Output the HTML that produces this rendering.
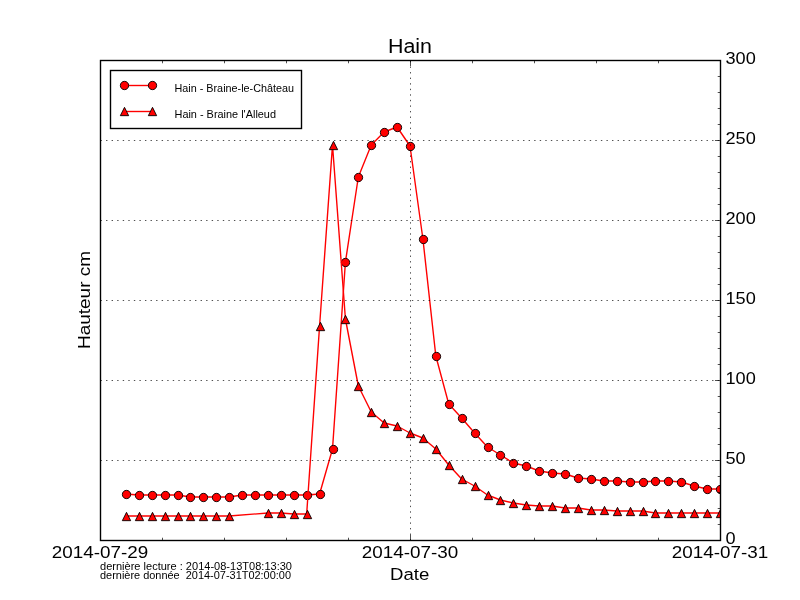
<!DOCTYPE html><html><head><meta charset="utf-8"><title>Hain</title><style>html,body{margin:0;padding:0;background:#fff;width:800px;height:600px;overflow:hidden}svg{display:block;will-change:transform}text{font-family:"Liberation Sans",sans-serif}</style></head><body><svg width="800" height="600" viewBox="0 0 800 600"><defs><clipPath id="ax"><rect x="100" y="60" width="620" height="480"/></clipPath></defs><rect x="0" y="0" width="800" height="600" fill="#fff"/><g clip-path="url(#ax)"><polyline points="125.83,494.00 138.75,495.00 151.67,495.00 164.58,495.00 177.50,495.00 190.42,497.00 203.33,497.00 216.25,497.00 229.17,497.00 242.08,495.00 255.00,495.00 267.92,495.00 280.83,495.00 293.75,495.00 306.67,495.00 319.58,494.00 332.50,449.00 345.42,262.00 358.33,177.00 371.25,145.00 384.17,132.00 397.08,127.00 410.00,146.00 422.92,239.00 435.83,356.00 448.75,404.00 461.67,418.00 474.58,433.00 487.50,447.00 500.42,455.00 513.33,463.00 526.25,466.00 539.17,471.00 552.08,473.00 565.00,474.00 577.92,478.00 590.83,479.00 603.75,481.00 616.67,481.00 629.58,482.00 642.50,482.00 655.42,481.00 668.33,481.00 681.25,482.00 694.17,486.00 707.08,489.00 720.00,489.00" fill="none" stroke="#f00" stroke-width="1.39" stroke-linejoin="round" stroke-linecap="square"/><g fill="#f00" stroke="#000" stroke-width="0.9"><circle cx="126.50" cy="494.50" r="4.17"/><circle cx="139.50" cy="495.50" r="4.17"/><circle cx="152.50" cy="495.50" r="4.17"/><circle cx="165.50" cy="495.50" r="4.17"/><circle cx="178.50" cy="495.50" r="4.17"/><circle cx="190.50" cy="497.50" r="4.17"/><circle cx="203.50" cy="497.50" r="4.17"/><circle cx="216.50" cy="497.50" r="4.17"/><circle cx="229.50" cy="497.50" r="4.17"/><circle cx="242.50" cy="495.50" r="4.17"/><circle cx="255.50" cy="495.50" r="4.17"/><circle cx="268.50" cy="495.50" r="4.17"/><circle cx="281.50" cy="495.50" r="4.17"/><circle cx="294.50" cy="495.50" r="4.17"/><circle cx="307.50" cy="495.50" r="4.17"/><circle cx="320.50" cy="494.50" r="4.17"/><circle cx="333.50" cy="449.50" r="4.17"/><circle cx="345.50" cy="262.50" r="4.17"/><circle cx="358.50" cy="177.50" r="4.17"/><circle cx="371.50" cy="145.50" r="4.17"/><circle cx="384.50" cy="132.50" r="4.17"/><circle cx="397.50" cy="127.50" r="4.17"/><circle cx="410.50" cy="146.50" r="4.17"/><circle cx="423.50" cy="239.50" r="4.17"/><circle cx="436.50" cy="356.50" r="4.17"/><circle cx="449.50" cy="404.50" r="4.17"/><circle cx="462.50" cy="418.50" r="4.17"/><circle cx="475.50" cy="433.50" r="4.17"/><circle cx="488.50" cy="447.50" r="4.17"/><circle cx="500.50" cy="455.50" r="4.17"/><circle cx="513.50" cy="463.50" r="4.17"/><circle cx="526.50" cy="466.50" r="4.17"/><circle cx="539.50" cy="471.50" r="4.17"/><circle cx="552.50" cy="473.50" r="4.17"/><circle cx="565.50" cy="474.50" r="4.17"/><circle cx="578.50" cy="478.50" r="4.17"/><circle cx="591.50" cy="479.50" r="4.17"/><circle cx="604.50" cy="481.50" r="4.17"/><circle cx="617.50" cy="481.50" r="4.17"/><circle cx="630.50" cy="482.50" r="4.17"/><circle cx="643.50" cy="482.50" r="4.17"/><circle cx="655.50" cy="481.50" r="4.17"/><circle cx="668.50" cy="481.50" r="4.17"/><circle cx="681.50" cy="482.50" r="4.17"/><circle cx="694.50" cy="486.50" r="4.17"/><circle cx="707.50" cy="489.50" r="4.17"/><circle cx="720.50" cy="489.50" r="4.17"/></g><polyline points="125.83,516.00 138.75,516.00 151.67,516.00 164.58,516.00 177.50,516.00 190.42,516.00 203.33,516.00 216.25,516.00 229.17,516.00 267.92,513.00 280.83,513.00 293.75,514.00 306.67,514.00 319.58,326.00 332.50,145.00 345.42,319.00 358.33,386.00 371.25,412.00 384.17,423.00 397.08,426.00 410.00,433.00 422.92,438.00 435.83,449.00 448.75,465.00 461.67,479.00 474.58,486.00 487.50,495.00 500.42,500.00 513.33,503.00 526.25,505.00 539.17,506.00 552.08,506.00 565.00,508.00 577.92,508.00 590.83,510.00 603.75,510.00 616.67,511.00 629.58,511.00 642.50,511.00 655.42,513.00 668.33,513.00 681.25,513.00 694.17,513.00 707.08,513.00 720.00,513.00" fill="none" stroke="#f00" stroke-width="1.39" stroke-linejoin="round" stroke-linecap="square"/><g fill="#f00" stroke="#000" stroke-width="0.9" stroke-linejoin="miter"><path d="M126.50 512.33L122.33 520.67L130.67 520.67Z"/><path d="M139.50 512.33L135.33 520.67L143.67 520.67Z"/><path d="M152.50 512.33L148.33 520.67L156.67 520.67Z"/><path d="M165.50 512.33L161.33 520.67L169.67 520.67Z"/><path d="M178.50 512.33L174.33 520.67L182.67 520.67Z"/><path d="M190.50 512.33L186.33 520.67L194.67 520.67Z"/><path d="M203.50 512.33L199.33 520.67L207.67 520.67Z"/><path d="M216.50 512.33L212.33 520.67L220.67 520.67Z"/><path d="M229.50 512.33L225.33 520.67L233.67 520.67Z"/><path d="M268.50 509.33L264.33 517.67L272.67 517.67Z"/><path d="M281.50 509.33L277.33 517.67L285.67 517.67Z"/><path d="M294.50 510.33L290.33 518.67L298.67 518.67Z"/><path d="M307.50 510.33L303.33 518.67L311.67 518.67Z"/><path d="M320.50 322.33L316.33 330.67L324.67 330.67Z"/><path d="M333.50 141.33L329.33 149.67L337.67 149.67Z"/><path d="M345.50 315.33L341.33 323.67L349.67 323.67Z"/><path d="M358.50 382.33L354.33 390.67L362.67 390.67Z"/><path d="M371.50 408.33L367.33 416.67L375.67 416.67Z"/><path d="M384.50 419.33L380.33 427.67L388.67 427.67Z"/><path d="M397.50 422.33L393.33 430.67L401.67 430.67Z"/><path d="M410.50 429.33L406.33 437.67L414.67 437.67Z"/><path d="M423.50 434.33L419.33 442.67L427.67 442.67Z"/><path d="M436.50 445.33L432.33 453.67L440.67 453.67Z"/><path d="M449.50 461.33L445.33 469.67L453.67 469.67Z"/><path d="M462.50 475.33L458.33 483.67L466.67 483.67Z"/><path d="M475.50 482.33L471.33 490.67L479.67 490.67Z"/><path d="M488.50 491.33L484.33 499.67L492.67 499.67Z"/><path d="M500.50 496.33L496.33 504.67L504.67 504.67Z"/><path d="M513.50 499.33L509.33 507.67L517.67 507.67Z"/><path d="M526.50 501.33L522.33 509.67L530.67 509.67Z"/><path d="M539.50 502.33L535.33 510.67L543.67 510.67Z"/><path d="M552.50 502.33L548.33 510.67L556.67 510.67Z"/><path d="M565.50 504.33L561.33 512.67L569.67 512.67Z"/><path d="M578.50 504.33L574.33 512.67L582.67 512.67Z"/><path d="M591.50 506.33L587.33 514.67L595.67 514.67Z"/><path d="M604.50 506.33L600.33 514.67L608.67 514.67Z"/><path d="M617.50 507.33L613.33 515.67L621.67 515.67Z"/><path d="M630.50 507.33L626.33 515.67L634.67 515.67Z"/><path d="M643.50 507.33L639.33 515.67L647.67 515.67Z"/><path d="M655.50 509.33L651.33 517.67L659.67 517.67Z"/><path d="M668.50 509.33L664.33 517.67L672.67 517.67Z"/><path d="M681.50 509.33L677.33 517.67L685.67 517.67Z"/><path d="M694.50 509.33L690.33 517.67L698.67 517.67Z"/><path d="M707.50 509.33L703.33 517.67L711.67 517.67Z"/><path d="M720.50 509.33L716.33 517.67L724.67 517.67Z"/></g></g><g stroke="#000" stroke-width="0.69" stroke-dasharray="1.39 4.17" fill="none"><line x1="100.5" y1="460.50" x2="720.5" y2="460.50"/><line x1="100.5" y1="380.50" x2="720.5" y2="380.50"/><line x1="100.5" y1="300.50" x2="720.5" y2="300.50"/><line x1="100.5" y1="220.50" x2="720.5" y2="220.50"/><line x1="100.5" y1="140.50" x2="720.5" y2="140.50"/><line x1="410.5" y1="540.5" x2="410.5" y2="60.5"/></g><g stroke="#000" stroke-width="0.69"><line x1="162.50" y1="540.5" x2="162.50" y2="537.72"/><line x1="162.50" y1="60.5" x2="162.50" y2="63.28"/><line x1="472.50" y1="540.5" x2="472.50" y2="537.72"/><line x1="472.50" y1="60.5" x2="472.50" y2="63.28"/><line x1="224.50" y1="540.5" x2="224.50" y2="537.72"/><line x1="224.50" y1="60.5" x2="224.50" y2="63.28"/><line x1="534.50" y1="540.5" x2="534.50" y2="537.72"/><line x1="534.50" y1="60.5" x2="534.50" y2="63.28"/><line x1="286.50" y1="540.5" x2="286.50" y2="537.72"/><line x1="286.50" y1="60.5" x2="286.50" y2="63.28"/><line x1="596.50" y1="540.5" x2="596.50" y2="537.72"/><line x1="596.50" y1="60.5" x2="596.50" y2="63.28"/><line x1="348.50" y1="540.5" x2="348.50" y2="537.72"/><line x1="348.50" y1="60.5" x2="348.50" y2="63.28"/><line x1="658.50" y1="540.5" x2="658.50" y2="537.72"/><line x1="658.50" y1="60.5" x2="658.50" y2="63.28"/><line x1="410.5" y1="540.5" x2="410.5" y2="534.94"/><line x1="410.5" y1="60.5" x2="410.5" y2="66.06"/><line x1="720.5" y1="540.50" x2="714.94" y2="540.50"/><line x1="720.5" y1="524.50" x2="717.72" y2="524.50"/><line x1="720.5" y1="508.50" x2="717.72" y2="508.50"/><line x1="720.5" y1="492.50" x2="717.72" y2="492.50"/><line x1="720.5" y1="476.50" x2="717.72" y2="476.50"/><line x1="720.5" y1="460.50" x2="714.94" y2="460.50"/><line x1="720.5" y1="444.50" x2="717.72" y2="444.50"/><line x1="720.5" y1="428.50" x2="717.72" y2="428.50"/><line x1="720.5" y1="412.50" x2="717.72" y2="412.50"/><line x1="720.5" y1="396.50" x2="717.72" y2="396.50"/><line x1="720.5" y1="380.50" x2="714.94" y2="380.50"/><line x1="720.5" y1="364.50" x2="717.72" y2="364.50"/><line x1="720.5" y1="348.50" x2="717.72" y2="348.50"/><line x1="720.5" y1="332.50" x2="717.72" y2="332.50"/><line x1="720.5" y1="316.50" x2="717.72" y2="316.50"/><line x1="720.5" y1="300.50" x2="714.94" y2="300.50"/><line x1="720.5" y1="284.50" x2="717.72" y2="284.50"/><line x1="720.5" y1="268.50" x2="717.72" y2="268.50"/><line x1="720.5" y1="252.50" x2="717.72" y2="252.50"/><line x1="720.5" y1="236.50" x2="717.72" y2="236.50"/><line x1="720.5" y1="220.50" x2="714.94" y2="220.50"/><line x1="720.5" y1="204.50" x2="717.72" y2="204.50"/><line x1="720.5" y1="188.50" x2="717.72" y2="188.50"/><line x1="720.5" y1="172.50" x2="717.72" y2="172.50"/><line x1="720.5" y1="156.50" x2="717.72" y2="156.50"/><line x1="720.5" y1="140.50" x2="714.94" y2="140.50"/><line x1="720.5" y1="124.50" x2="717.72" y2="124.50"/><line x1="720.5" y1="108.50" x2="717.72" y2="108.50"/><line x1="720.5" y1="92.50" x2="717.72" y2="92.50"/><line x1="720.5" y1="76.50" x2="717.72" y2="76.50"/><line x1="720.5" y1="60.50" x2="714.94" y2="60.50"/></g><rect x="100.5" y="60.5" width="620" height="480" fill="none" stroke="#000" stroke-width="1.39"/><rect x="110.5" y="70.5" width="191" height="58" fill="#fff" stroke="#000" stroke-width="1.39"/><line x1="124.5" y1="85.5" x2="152.5" y2="85.5" stroke="#f00" stroke-width="1.39"/><g fill="#f00" stroke="#000" stroke-width="0.9"><circle cx="124.5" cy="85.5" r="4.17"/><circle cx="152.5" cy="85.5" r="4.17"/></g><line x1="124.5" y1="111.5" x2="152.5" y2="111.5" stroke="#f00" stroke-width="1.39"/><g fill="#f00" stroke="#000" stroke-width="0.9"><path d="M124.50 107.33L120.33 115.67L128.67 115.67Z"/><path d="M152.50 107.33L148.33 115.67L156.67 115.67Z"/></g><g font-family="'Liberation Sans', sans-serif" fill="#000"><text x="410.00" y="52.50" font-size="19.50" text-anchor="middle" textLength="44.00" lengthAdjust="spacingAndGlyphs">Hain</text><text x="725.50" y="544.00" font-size="16.80" text-anchor="start" textLength="10.10" lengthAdjust="spacingAndGlyphs">0</text><text x="725.50" y="464.00" font-size="16.80" text-anchor="start" textLength="20.20" lengthAdjust="spacingAndGlyphs">50</text><text x="725.50" y="384.00" font-size="16.80" text-anchor="start" textLength="30.30" lengthAdjust="spacingAndGlyphs">100</text><text x="725.50" y="304.00" font-size="16.80" text-anchor="start" textLength="30.30" lengthAdjust="spacingAndGlyphs">150</text><text x="725.50" y="224.00" font-size="16.80" text-anchor="start" textLength="30.30" lengthAdjust="spacingAndGlyphs">200</text><text x="725.50" y="144.00" font-size="16.80" text-anchor="start" textLength="30.30" lengthAdjust="spacingAndGlyphs">250</text><text x="725.50" y="64.00" font-size="16.80" text-anchor="start" textLength="30.30" lengthAdjust="spacingAndGlyphs">300</text><text x="100.00" y="558.00" font-size="16.80" text-anchor="middle" textLength="96.50" lengthAdjust="spacingAndGlyphs">2014-07-29</text><text x="410.00" y="558.00" font-size="16.80" text-anchor="middle" textLength="96.50" lengthAdjust="spacingAndGlyphs">2014-07-30</text><text x="720.00" y="558.00" font-size="16.80" text-anchor="middle" textLength="96.50" lengthAdjust="spacingAndGlyphs">2014-07-31</text><text x="409.70" y="579.80" font-size="16.80" text-anchor="middle" textLength="39.30" lengthAdjust="spacingAndGlyphs">Date</text><text x="0" y="0" font-size="16.8" text-anchor="middle" textLength="98" lengthAdjust="spacingAndGlyphs" transform="translate(89.6,300) rotate(-90)">Hauteur cm</text><text x="174.50" y="92.00" font-size="11.10" text-anchor="start" textLength="119.50" lengthAdjust="spacingAndGlyphs">Hain - Braine-le-Château</text><text x="174.50" y="118.00" font-size="11.10" text-anchor="start" textLength="101.50" lengthAdjust="spacingAndGlyphs">Hain - Braine l'Alleud</text><text x="100.00" y="570.30" font-size="11.10" text-anchor="start" textLength="192.00" lengthAdjust="spacingAndGlyphs">dernière lecture : 2014-08-13T08:13:30</text><text x="100.00" y="578.60" font-size="11.10" text-anchor="start" textLength="191.00" lengthAdjust="spacingAndGlyphs">dernière donnée&#160; 2014-07-31T02:00:00</text></g></svg></body></html>
